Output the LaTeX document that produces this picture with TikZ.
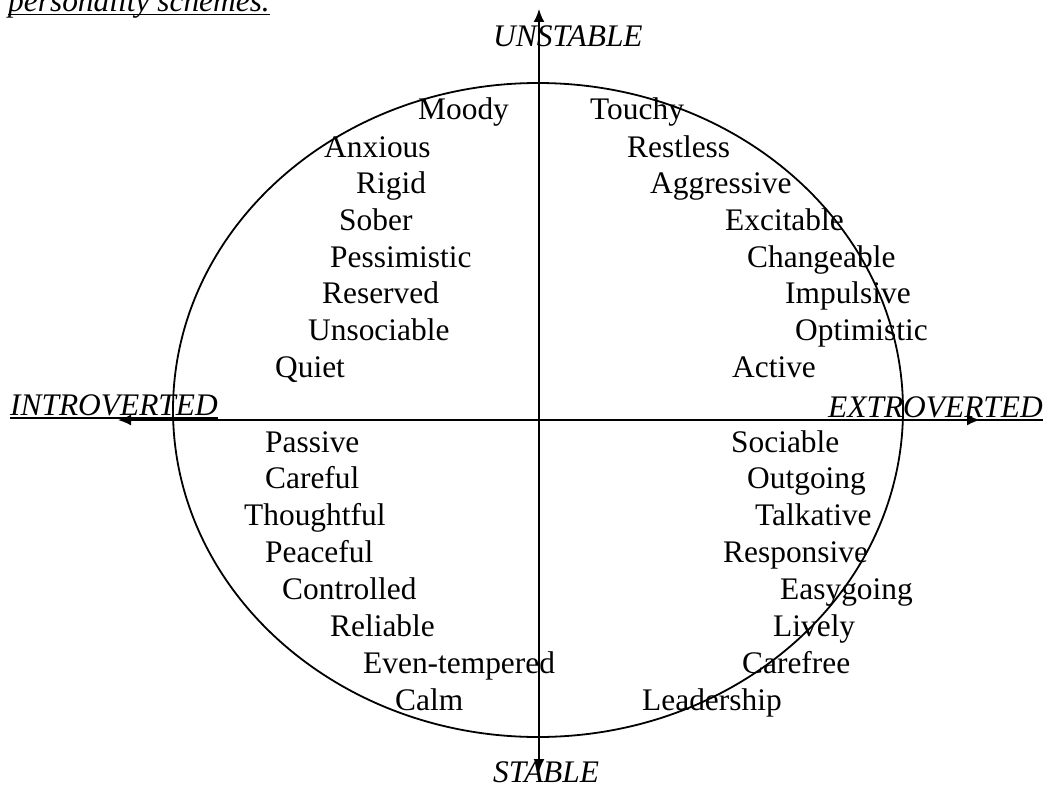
\documentclass[tikz,border=0pt]{standalone}
\usepackage{fontspec}
\setmainfont{Liberation Serif}
\usetikzlibrary{arrows.meta}
\begin{document}
\begin{tikzpicture}[x=1pt,y=-1pt,
  word/.style={anchor=base west, inner sep=0pt, font=\fontsize{31.4}{36}\selectfont},
  axislabel/.style={word, font=\fontsize{31.4}{36}\selectfont\itshape},
  uline/.style={line width=1.3pt},
  axis/.style={line width=1.8pt, {Latex[length=13pt,width=11pt]}-{Latex[length=13pt,width=11pt]}},
  ring/.style={line width=1.8pt}]
\useasboundingbox (0,0) rectangle (1043,789);
\clip (0,0) rectangle (1043,789);
\fill[white] (0,0) rectangle (1043,789);

% heading line, partly above the top edge
\node[axislabel] (head) at (8,12) {personality schemes.};
\draw[uline] ([yshift=-2.5pt]head.base west) -- ([yshift=-2.5pt]head.base east);

% the oval and the two axes
\coordinate (centre) at (538,410);
\draw[ring] (centre) ellipse [x radius=365pt, y radius=327pt];
\coordinate (up) at (539,9);
\coordinate (down) at (539,772);
\coordinate (left) at (118,420);
\coordinate (right) at (980,420);
\draw[axis] (down) -- (up);
\draw[axis] (left) -- (right);

% axis labels
\node[axislabel] (unstable) at (493,47) {UNSTABLE};
\node[axislabel] (stable) at (493,782) {STABLE};
\node[axislabel] (intro) at (10,415) {INTROVERTED};
\node[axislabel] (extro) at (828,417) {EXTROVERTED};
\draw[uline] ([yshift=-3pt]intro.base west) -- ([yshift=-3pt]intro.base east);
\draw[uline] ([yshift=-3pt]extro.base west) -- ([yshift=-3pt]extro.base east);

% unstable / introverted
\node[word] (moody) at (418,120) {Moody};
\node[word] (anxious) at (324,157) {Anxious};
\node[word] (rigid) at (356,193) {Rigid};
\node[word] (sober) at (339,230) {Sober};
\node[word] (pessimistic) at (330,267) {Pessimistic};
\node[word] (reserved) at (322,303) {Reserved};
\node[word] (unsociable) at (308,340) {Unsociable};
\node[word] (quiet) at (275,377) {Quiet};

% unstable / extroverted
\node[word] (touchy) at (590,120) {Touchy};
\node[word] (restless) at (627,157) {Restless};
\node[word] (aggressive) at (650,193) {Aggressive};
\node[word] (excitable) at (725,230) {Excitable};
\node[word] (changeable) at (747,267) {Changeable};
\node[word] (impulsive) at (785,303) {Impulsive};
\node[word] (optimistic) at (795,340) {Optimistic};
\node[word] (active) at (732,377) {Active};

% stable / introverted
\node[word] (passive) at (265,452) {Passive};
\node[word] (careful) at (265,488) {Careful};
\node[word] (thoughtful) at (244,525) {Thoughtful};
\node[word] (peaceful) at (265,562) {Peaceful};
\node[word] (controlled) at (282,599) {Controlled};
\node[word] (reliable) at (330,636) {Reliable};
\node[word] (eventempered) at (363,673) {Even-tempered};
\node[word] (calm) at (395,710) {Calm};

% stable / extroverted
\node[word] (sociable) at (731,452) {Sociable};
\node[word] (outgoing) at (747,488) {Outgoing};
\node[word] (talkative) at (755,525) {Talkative};
\node[word] (responsive) at (723,562) {Responsive};
\node[word] (easygoing) at (780,599) {Easygoing};
\node[word] (lively) at (773,636) {Lively};
\node[word] (carefree) at (742,673) {Carefree};
\node[word] (leadership) at (642,710) {Leadership};
\end{tikzpicture}
\end{document}
